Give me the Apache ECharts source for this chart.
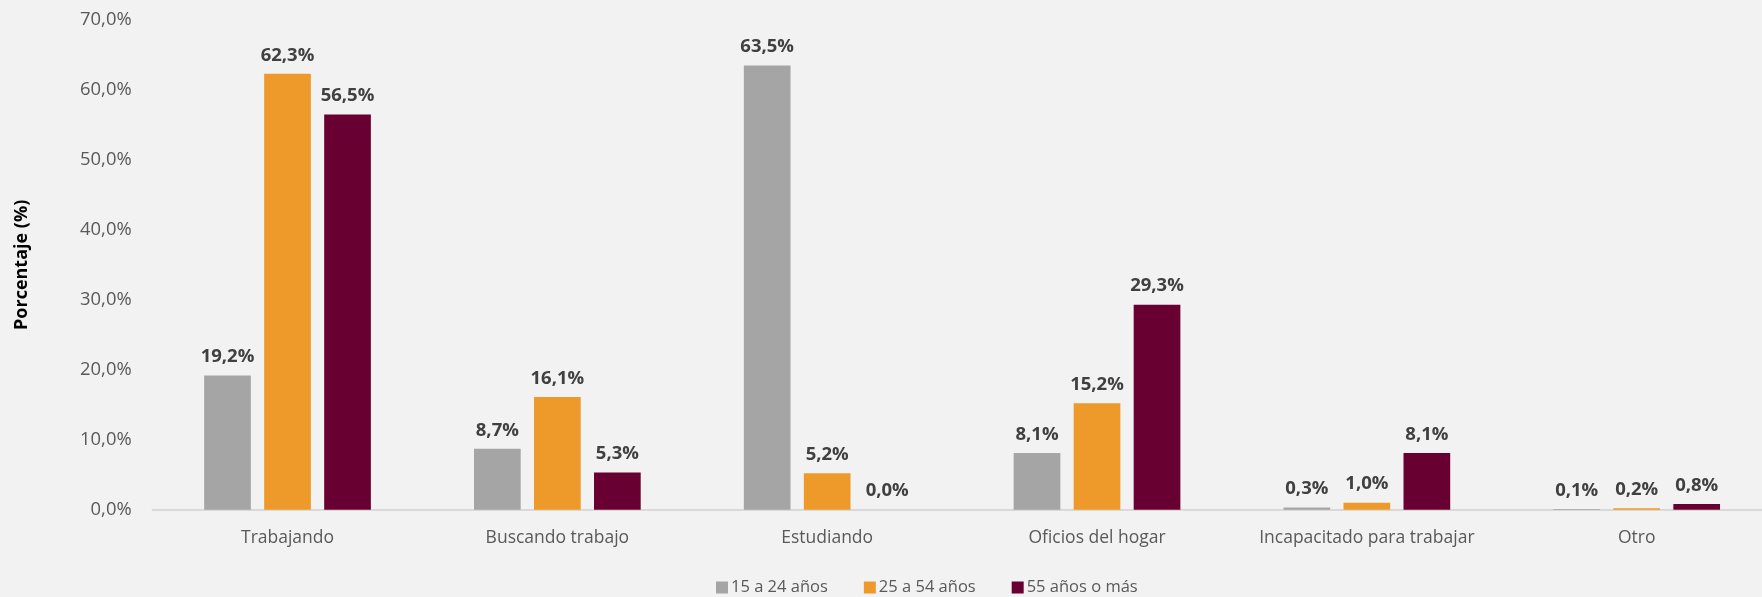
<!DOCTYPE html>
<html>
<head>
<meta charset="utf-8">
<script src="https://cdn.jsdelivr.net/npm/echarts@6/dist/echarts.min.js"></script>
<style>
html,body{margin:0;padding:0;background:#F2F2F2;}
#chart{width:1762px;height:597px;}
</style>
</head>
<body>
<div id="chart"></div>
<script>
const categories = ["Trabajando", "Buscando trabajo", "Estudiando", "Oficios del hogar", "Incapacitado para trabajar", "Otro"];
const seriesNames = ["15 a 24 años", "25 a 54 años", "55 años o más"];
const age15to24 = [19.2, 8.7, 63.5, 8.1, 0.3, 0.1];
const age25to54 = [62.3, 16.1, 5.2, 15.2, 1.0, 0.2];
const age55plus = [56.5, 5.3, 0.0, 29.3, 8.1, 0.8];
const yTicks = [0, 10, 20, 30, 40, 50, 60, 70];
const colors = ["#A5A5A5", "#EE9A2A", "#690032"];

const fmt = v => v.toFixed(1).replace('.', ',') + '%';
const font = '"Open Sans", "Noto Sans", sans-serif';

const chart = echarts.init(document.getElementById('chart'), null, {renderer: 'canvas'});
const mk = (name, data, color) => ({
  name, type: 'bar', data,
  barWidth: 46.7, barGap: '28.5%',
  itemStyle: {color},
  label: {
    show: true, position: 'top', distance: 9,
    formatter: p => fmt(p.value),
    fontFamily: font, fontWeight: 'bold', fontSize: 18.5, color: '#404040'
  }
});
chart.setOption({
  backgroundColor: '#F2F2F2',
  animation: false,
  grid: {left: 152.6, top: 20, width: 1619, bottom: 87.3, containLabel: false, outerBoundsMode: 'none'},
  legend: {
    data: seriesNames, left: 711, top: 574,
    itemWidth: 12, itemHeight: 12, itemGap: 36,
    icon: 'rect',
    textStyle: {fontFamily: font, fontSize: 16.5, color: '#595959', padding: [0, 0, 0, -2]}
  },
  xAxis: {
    type: 'category', data: categories,
    axisLine: {lineStyle: {color: '#D9D9D9', width: 2}},
    axisTick: {show: false},
    axisLabel: {fontFamily: font, fontSize: 17.5, color: '#595959', margin: 19, interval: 0}
  },
  yAxis: {
    type: 'value', min: yTicks[0], max: yTicks[yTicks.length - 1], interval: 10,
    name: 'Porcentaje (%)', nameLocation: 'middle', nameGap: 122, nameRotate: 90,
    nameTextStyle: {fontFamily: font, fontWeight: 'bold', fontSize: 18, color: '#000000'},
    axisLine: {show: false}, axisTick: {show: false},
    splitLine: {show: false},
    axisLabel: {fontFamily: font, fontSize: 18.4, color: '#595959', margin: 21, formatter: v => fmt(v)}
  },
  series: [mk(seriesNames[0], age15to24, colors[0]), mk(seriesNames[1], age25to54, colors[1]), mk(seriesNames[2], age55plus, colors[2])]
});
</script>
</body>
</html>
